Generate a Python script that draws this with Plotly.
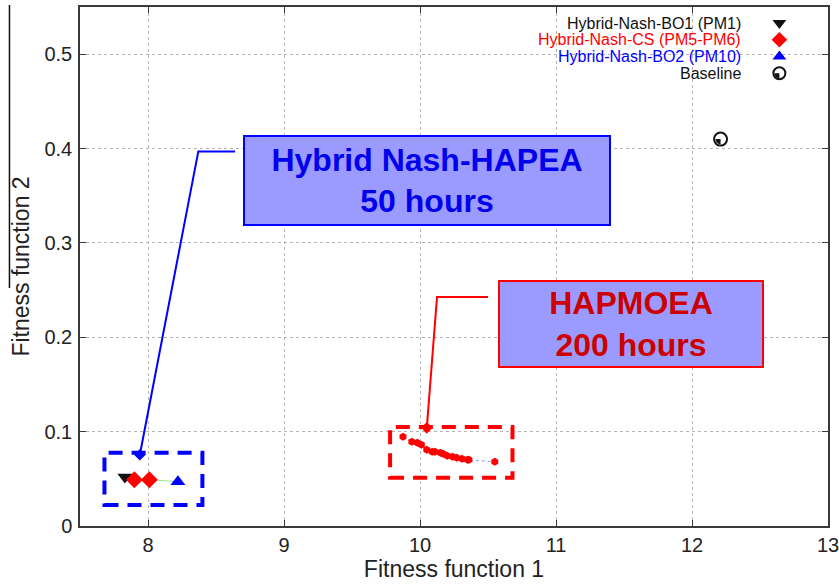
import math
import plotly.graph_objects as go

# ---- data ---------------------------------------------------------------
# Hybrid Nash runs (Fitness function 1, Fitness function 2)
BO1_X = [7.83]
BO1_Y = [0.052]
CS_X = [7.90, 8.01]
CS_Y = [0.049, 0.049]
BO2_X = [8.22]
BO2_Y = [0.047]

# HAPMOEA Pareto front
HAP_X = [9.875, 9.94, 9.98, 10.01, 10.05, 10.09, 10.11, 10.15, 10.17,
         10.20, 10.24, 10.27, 10.31, 10.35, 10.36, 10.55]
HAP_Y = [0.0947, 0.0894, 0.0883, 0.0862, 0.0809, 0.0787, 0.0787, 0.0777,
         0.0766, 0.0745, 0.0734, 0.0723, 0.0713, 0.0702, 0.0702, 0.068]

BASE_X = [12.21]
BASE_Y = [0.41]

# callout leaders and group frames
NASH_LEADER_X = [7.94, 8.37, 8.64]
NASH_LEADER_Y = [0.0755, 0.397, 0.397]
HAP_LEADER_X = [10.05, 10.125, 10.5]
HAP_LEADER_Y = [0.104, 0.2426, 0.2426]
NASH_FRAME = dict(x0=7.68, x1=8.40, y0=0.0223, y1=0.0777)
HAP_FRAME = dict(x0=9.78, x1=10.68, y0=0.051, y1=0.105)

X_TICKS = [8, 9, 10, 11, 12, 13]
Y_TICKS = [0, 0.1, 0.2, 0.3, 0.4, 0.5]

LEGEND_LABELS = ["Hybrid-Nash-BO1 (PM1)", "Hybrid-Nash-CS (PM5-PM6)",
                 "Hybrid-Nash-BO2 (PM10)", "Baseline"]
LEGEND_COLORS = ["#111111", "#ff0000", "#0000ff", "#111111"]
LEGEND_SYMBOLS = ["triangle-down", "diamond", "triangle-up", "circle-open"]

FONT = "Liberation Sans, Arial, sans-serif"
BLUE = "#0000ff"
RED = "#ff0000"
BOX_FILL = "#9a9aff"
INK = "#111111"

fig = go.Figure()

# thin line joining the Hybrid Nash solutions
fig.add_trace(go.Scatter(x=BO1_X + CS_X + BO2_X, y=BO1_Y + CS_Y + BO2_Y,
                         mode="lines", line=dict(color="#9de29d", width=1),
                         hoverinfo="skip"))
# HAPMOEA front
fig.add_trace(go.Scatter(x=HAP_X, y=HAP_Y, mode="lines+markers",
                         line=dict(color="#8f8fff", width=1, dash="dot"),
                         marker=dict(symbol="hexagon", size=8, color=RED)))
# Hybrid Nash markers
fig.add_trace(go.Scatter(x=BO1_X, y=BO1_Y, mode="markers",
                         marker=dict(symbol="triangle-down", size=13, color=INK)))
fig.add_trace(go.Scatter(x=BO2_X, y=BO2_Y, mode="markers",
                         marker=dict(symbol="triangle-up", size=13, color=BLUE)))
fig.add_trace(go.Scatter(x=CS_X, y=CS_Y, mode="markers",
                         marker=dict(symbol="diamond", size=13, color=RED)))
# Baseline
fig.add_trace(go.Scatter(x=BASE_X, y=BASE_Y, mode="markers",
                         marker=dict(symbol="circle-open", size=13, color=INK,
                                     line=dict(color=INK, width=2))))
# callout leaders
fig.add_trace(go.Scatter(x=NASH_LEADER_X, y=NASH_LEADER_Y, mode="lines",
                         line=dict(color=BLUE, width=2)))
fig.add_trace(go.Scatter(x=NASH_LEADER_X[:1], y=NASH_LEADER_Y[:1], mode="markers",
                         marker=dict(symbol="diamond", size=9, color=BLUE)))
fig.add_trace(go.Scatter(x=HAP_LEADER_X, y=HAP_LEADER_Y, mode="lines",
                         line=dict(color=RED, width=2)))
fig.add_trace(go.Scatter(x=HAP_LEADER_X[:1], y=HAP_LEADER_Y[:1], mode="markers",
                         marker=dict(symbol="diamond", size=9, color=RED)))

# legend keys on an overlay axis in plot-fraction units
LEG_X = 0.935
LEG_TOP = 0.969
LEG_STEP = 0.0322
leg_y = [LEG_TOP - i * LEG_STEP for i in range(len(LEGEND_LABELS))]
for i, (lab, col, sym) in enumerate(zip(LEGEND_LABELS, LEGEND_COLORS, LEGEND_SYMBOLS)):
    mk = dict(symbol=sym, size=12, color=col)
    if sym == "circle-open":
        mk = dict(symbol=sym, size=12, color=col, line=dict(color=col, width=2))
    fig.add_trace(go.Scatter(x=[LEG_X], y=[leg_y[i]], xaxis="x2", yaxis="y2",
                             mode="markers", marker=mk, cliponaxis=False))
    fig.add_annotation(x=0.887, y=leg_y[i], xref="paper", yref="paper",
                       text=lab, showarrow=False, xanchor="right", yanchor="middle",
                       font=dict(family=FONT, size=16, color=col))


def quadrant(r, n=12):
    """Filled lower-left quarter disc, pixel units around the anchor."""
    pts = ["M0,0", f"L{-r},0"]
    for k in range(1, n + 1):
        a = math.pi + k * (math.pi / 2) / n
        pts.append(f"L{r * math.cos(a):.2f},{r * math.sin(a):.2f}")
    pts.append("Z")
    return " ".join(pts)


shapes = []
# half-filled quadrant inside the Baseline marker and its legend key
shapes.append(dict(type="path", xref="x", yref="y", xsizemode="pixel", ysizemode="pixel",
                   xanchor=BASE_X[0], yanchor=BASE_Y[0], path=quadrant(5),
                   fillcolor=INK, line=dict(width=0)))
shapes.append(dict(type="path", xref="paper", yref="paper", xsizemode="pixel",
                   ysizemode="pixel", xanchor=LEG_X, yanchor=leg_y[3], path=quadrant(5),
                   fillcolor=INK, line=dict(width=0)))
# dashed frames around the two groups
shapes.append(dict(type="rect", xref="x", yref="y", **NASH_FRAME,
                   line=dict(color=BLUE, width=4, dash="14px,9px")))
shapes.append(dict(type="rect", xref="x", yref="y", **HAP_FRAME,
                   line=dict(color=RED, width=4, dash="14px,9px")))
# stray rule at the left edge of the figure
shapes.append(dict(type="line", xref="paper", yref="paper", x0=-0.0943, x1=-0.0943,
                   y0=0.4586, y1=1.004, line=dict(color=INK, width=1.5)))

# callout boxes
fig.add_annotation(x=10.05, y=0.366, xref="x", yref="y", showarrow=False,
                   text="<b>Hybrid Nash-HAPEA<br>50 hours</b>",
                   font=dict(family=FONT, size=32, color="#0000ee"),
                   bgcolor=BOX_FILL, bordercolor=BLUE, borderwidth=2, borderpad=0,
                   width=364, height=87, align="center", valign="middle")
fig.add_annotation(x=11.55, y=0.2138, xref="x", yref="y", showarrow=False,
                   text="<b>HAPMOEA<br>200 hours</b>",
                   font=dict(family=FONT, size=32, color="#cc0000"),
                   bgcolor=BOX_FILL, bordercolor=RED, borderwidth=2, borderpad=0,
                   width=262, height=84, align="center", valign="middle")

axis_common = dict(showline=True, mirror="ticks", linecolor="#3a3a3a", linewidth=1.5,
                   ticks="inside", ticklen=6, tickwidth=1.2, tickcolor="#3a3a3a",
                   showgrid=True, gridcolor="#b5b5b5", griddash="dot", gridwidth=1,
                   zeroline=False, automargin=False, ticklabeloverflow="allow",
                   tickfont=dict(family=FONT, size=20, color="#222222"))

fig.update_layout(
    template="none",
    width=839, height=585,
    margin=dict(l=80, r=11, t=7, b=59, autoexpand=False),
    paper_bgcolor="white", plot_bgcolor="white",
    showlegend=False,
    shapes=shapes,
    xaxis=dict(range=[7.5, 13], tickvals=X_TICKS, ticklabelstandoff=0,
               title=dict(text="Fitness function 1", standoff=6,
                          font=dict(family=FONT, size=23, color="#222222")),
               **axis_common),
    yaxis=dict(range=[0, 0.55], tickvals=Y_TICKS, ticklabelstandoff=2,
               title=dict(text="Fitness function 2", standoff=8,
                          font=dict(family=FONT, size=23, color="#222222")),
               **axis_common),
    xaxis2=dict(overlaying="x", range=[0, 1], visible=False),
    yaxis2=dict(overlaying="y", range=[0, 1], visible=False),
)

fig.write_html("out.html")
